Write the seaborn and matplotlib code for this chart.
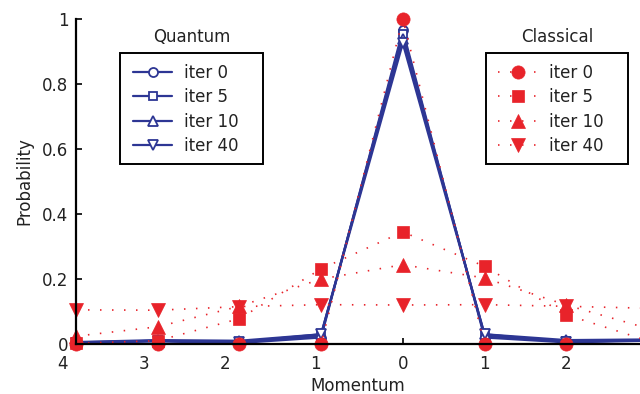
import matplotlib
matplotlib.use("Agg")
import matplotlib.pyplot as plt
import matplotlib.transforms as mtransforms
from matplotlib.patches import Rectangle
import seaborn as sns

# ---------------- data ----------------
momentum = [-4, -3, -2, -1, 0, 1, 2, 3]
iter_labels = ["iter 0", "iter 5", "iter 10", "iter 40"]

quantum_iter0 = [0.003, 0.008, 0.003, 0.020, 0.965, 0.020, 0.005, 0.010]
quantum_iter5 = [0.005, 0.010, 0.005, 0.025, 0.955, 0.025, 0.008, 0.012]
quantum_iter10 = [0.006, 0.012, 0.010, 0.030, 0.940, 0.030, 0.012, 0.014]
quantum_iter40 = [0.004, 0.010, 0.006, 0.030, 0.925, 0.030, 0.006, 0.012]

classical_iter0 = [0.0, 0.0, 0.0, 0.0, 1.0, 0.0, 0.0, 0.0]
classical_iter5 = [0.002, 0.010, 0.078, 0.231, 0.345, 0.239, 0.090, 0.010]
classical_iter10 = [0.024, 0.053, 0.116, 0.200, 0.244, 0.203, 0.120, 0.048]
classical_iter40 = [0.105, 0.104, 0.115, 0.121, 0.120, 0.121, 0.116, 0.110]

xtick_values = [-4, -3, -2, -1, 0, 1, 2]
xtick_labels = ["4", "3", "2", "1", "0", "1", "2"]
ytick_values = [0, 0.2, 0.4, 0.6, 0.8, 1.0]
ytick_labels = ["0", "0.2", "0.4", "0.6", "0.8", "1"]

# ---------------- style ----------------
sns.set_style("ticks")
plt.rcParams["font.family"] = ["DejaVu Sans"]
plt.rcParams["font.size"] = 12

BLUE = "#2d3694"
RED = "#e8232a"
FS = 12

fig = plt.figure(figsize=(6.4, 3.94), dpi=100)
ax = fig.add_axes([76 / 640, 50 / 394, 1 - 76 / 640, (344 - 19) / 394])

quantum = [quantum_iter0, quantum_iter5, quantum_iter10, quantum_iter40]
classical = [classical_iter0, classical_iter5, classical_iter10, classical_iter40]

q_markers = ["o", "s", "^", "v"]
q_ms = [6.5, 5.2, 7, 7]
c_ms = [9.5, 8, 10, 10]

q_handles = []
for ys, m, ms in zip(quantum, q_markers, q_ms):
    sns.lineplot(x=momentum, y=ys, ax=ax, color=BLUE, linewidth=1.6,
                 marker=m, markersize=ms, markerfacecolor="white",
                 markeredgecolor=BLUE, markeredgewidth=1.3, clip_on=False)
    q_handles.append(ax.lines[-1])

c_handles = []
for ys, m, ms in zip(classical, q_markers, c_ms):
    sns.lineplot(x=momentum, y=ys, ax=ax, color=RED, linewidth=1.2,
                 marker=m, markersize=ms, markerfacecolor=RED,
                 markeredgecolor=RED, markeredgewidth=0.5, clip_on=False)
    ln = ax.lines[-1]
    ln.set_linestyle((0, (0.9, 6.3)))
    c_handles.append(ln)

ax.set_xlim(-4, -4 + (640 - 76) / 81.7)
ax.set_ylim(0, 1)
ax.set_yticks(ytick_values, ytick_labels)
ax.set_xticks(xtick_values, xtick_labels)
ax.tick_params(direction="in", length=4, width=1.2, colors="black",
               labelsize=FS, labelcolor="#222222")
ax.tick_params(axis="x", pad=8)
ax.tick_params(axis="y", pad=5.5)
for s in ["top", "right"]:
    ax.spines[s].set_visible(False)
for s in ["left", "bottom"]:
    ax.spines[s].set_linewidth(1.6)
    ax.spines[s].set_color("black")

# shift left-side labels (as in the reference, where the minus signs are missing)
offsets_px = [-14, -14, -14, -6, 0, 0, 0]
for tick, dx in zip(ax.xaxis.get_major_ticks(), offsets_px):
    tick.label1.set_transform(tick.label1.get_transform() +
                              mtransforms.ScaledTranslation(dx / 100, 0, fig.dpi_scale_trans))

ax.set_xlabel("Momentum", fontsize=FS, labelpad=3, color="#222222")
ax.set_ylabel("Probability", fontsize=FS, labelpad=6, color="#222222")

# ---------------- legends ----------------
leg_kw = dict(loc="center left", frameon=False, fontsize=FS, handlelength=2.34,
              handletextpad=0.72, labelspacing=0.38, borderpad=0,
              borderaxespad=0, numpoints=1, bbox_transform=fig.transFigure)
leg1 = fig.legend(q_handles, iter_labels, bbox_to_anchor=(133 / 640, 1 - 109.5 / 394), **leg_kw)
leg2 = fig.legend(c_handles, iter_labels, bbox_to_anchor=(498 / 640, 1 - 109.5 / 394), **leg_kw)
for leg in (leg1, leg2):
    for t in leg.get_texts():
        t.set_color("#222222")

for x0, x1 in [(120, 263), (486, 628)]:
    fig.patches.append(Rectangle((x0 / 640, 1 - 164 / 394), (x1 - x0) / 640, 111 / 394,
                                 transform=fig.transFigure, fill=False,
                                 edgecolor="black", linewidth=1.4))

fig.text(191.5 / 640, 1 - 42 / 394, "Quantum", ha="center", va="baseline", fontsize=FS, color="#222222")
fig.text(557 / 640, 1 - 42 / 394, "Classical", ha="center", va="baseline", fontsize=FS, color="#222222")

fig.savefig("out.png", dpi=100)
